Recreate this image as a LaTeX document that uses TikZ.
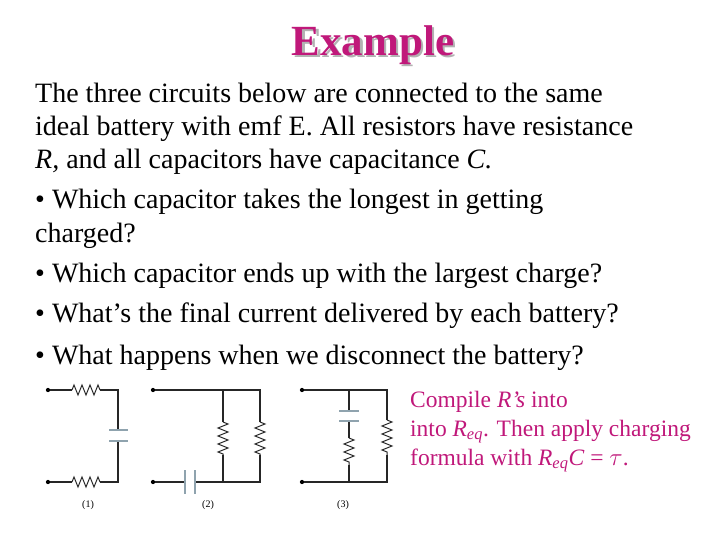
\documentclass[tikz,border=0pt]{standalone}
\usepackage{fontspec}
\setmainfont{Liberation Serif}
\usetikzlibrary{decorations.pathmorphing}
\definecolor{pinkc}{HTML}{C0187A}
\definecolor{capc}{HTML}{8FA3AE}
\tikzset{
 wire/.style={line width=1.1pt,black!85},
 res/.style={line width=1pt,decorate,decoration={zigzag,segment length=8pt,amplitude=5pt}},
 plate/.style={line width=2.6pt,capc},
 dot/.style={circle,fill,inner sep=1.5pt},
 body/.style={anchor=base west,inner sep=0,font=\fontsize{28}{28}\selectfont},
 pink/.style={anchor=base west,inner sep=0,text=pinkc,font=\fontsize{23.5}{23.5}\selectfont},
 lab/.style={font=\fontsize{10}{10}\selectfont}
}
\begin{document}
\begin{tikzpicture}[x=1pt,y=-1pt]
\useasboundingbox (0,0) rectangle (720,540);
\node (title) at (373,46) {\fontsize{43}{43}\selectfont\bfseries\rlap{\hspace{2.5pt}\raisebox{-2.5pt}{\color{black!30}Example}}\color{pinkc}Example};
\node[body] (l1) at (35,103) {The three circuits below are connected to the same};
\node[body] (l2) at (35,136) {ideal battery with emf E. All resistors have resistance};
\node[body] (l3) at (35,169) {\itshape R,\upshape{} and all capacitors have capacitance \itshape C.};
\node[body] (l4) at (35,209) {• Which capacitor takes the longest in getting};
\node[body] (l5) at (35,242) {charged?};
\node[body] (l6) at (35,282) {• Which capacitor ends up with the largest charge?};
\node[body] (l7) at (35,322) {• What’s the final current delivered by each battery?};
\node[body] (l8) at (35,364) {• What happens when we disconnect the battery?};
\node[pink] (p1) at (410,407) {Compile \textit{R’s} into};
\node[pink] (p2) at (410,436) {into \textit{R}\textsubscript{\textit{eq}}. Then apply charging};
\node[pink] (p3) at (410,465) {formula with \textit{R}\textsubscript{\textit{eq}}\textit{C} = $\tau$.};
% circuit 1
\node[dot] (a1) at (48,390) {};
\node[dot] (b1) at (48,482) {};
\coordinate (a1r1) at (72,390); \coordinate (a1r2) at (100,390);
\coordinate (b1r1) at (72,482); \coordinate (b1r2) at (100,482);
\coordinate (tc1) at (118,390); \coordinate (bc1) at (118,482);
\coordinate (c1a) at (118,430); \coordinate (c1b) at (118,441);
\draw[wire] (a1) -- (a1r1); \draw[wire,res] (a1r1) -- (a1r2); \draw[wire] (a1r2) -- (tc1) -- (c1a);
\draw[wire] (b1) -- (b1r1); \draw[wire,res] (b1r1) -- (b1r2); \draw[wire] (b1r2) -- (bc1) -- (c1b);
\draw[plate] (109,430) -- (128,430); \draw[plate] (109,441) -- (128,441);
\node[lab] (n1) at (88,505) {(1)};
% circuit 2
\node[dot] (a2) at (153,390) {};
\node[dot] (b2) at (153,482) {};
\coordinate (t2a) at (223,390); \coordinate (t2b) at (260,390);
\coordinate (u2a) at (223,422); \coordinate (v2a) at (223,455);
\coordinate (u2b) at (260,422); \coordinate (v2b) at (260,455);
\coordinate (q2a) at (223,482); \coordinate (q2b) at (260,482);
\coordinate (k1) at (185,482); \coordinate (k2) at (195,482);
\draw[wire] (a2) -- (t2b) -- (u2b); \draw[wire] (t2a) -- (u2a);
\draw[wire,res] (u2a) -- (v2a); \draw[wire,res] (u2b) -- (v2b);
\draw[wire] (v2a) -- (q2a); \draw[wire] (v2b) -- (q2b) -- (k2);
\draw[wire] (b2) -- (k1);
\draw[plate] (185,470) -- (185,494); \draw[plate] (195,470) -- (195,494);
\node[lab] (n2) at (208,505) {(2)};
% circuit 3
\node[dot] (a3) at (302,390) {};
\node[dot] (b3) at (302,482) {};
\coordinate (t3a) at (349,390); \coordinate (t3b) at (387,390);
\coordinate (c3a) at (349,411); \coordinate (c3b) at (349,421);
\coordinate (u3a) at (349,438); \coordinate (v3a) at (349,465);
\coordinate (u3b) at (387,420); \coordinate (v3b) at (387,455);
\coordinate (q3a) at (349,482); \coordinate (q3b) at (387,482);
\draw[wire] (a3) -- (t3b) -- (u3b); \draw[wire] (t3a) -- (c3a);
\draw[wire] (c3b) -- (u3a); \draw[wire,res] (u3a) -- (v3a); \draw[wire,res] (u3b) -- (v3b);
\draw[wire] (b3) -- (q3b) -- (v3b); \draw[wire] (q3a) -- (v3a);
\draw[plate] (339,411) -- (359,411); \draw[plate] (339,421) -- (359,421);
\node[lab] (n3) at (343,505) {(3)};
\end{tikzpicture}
\end{document}
